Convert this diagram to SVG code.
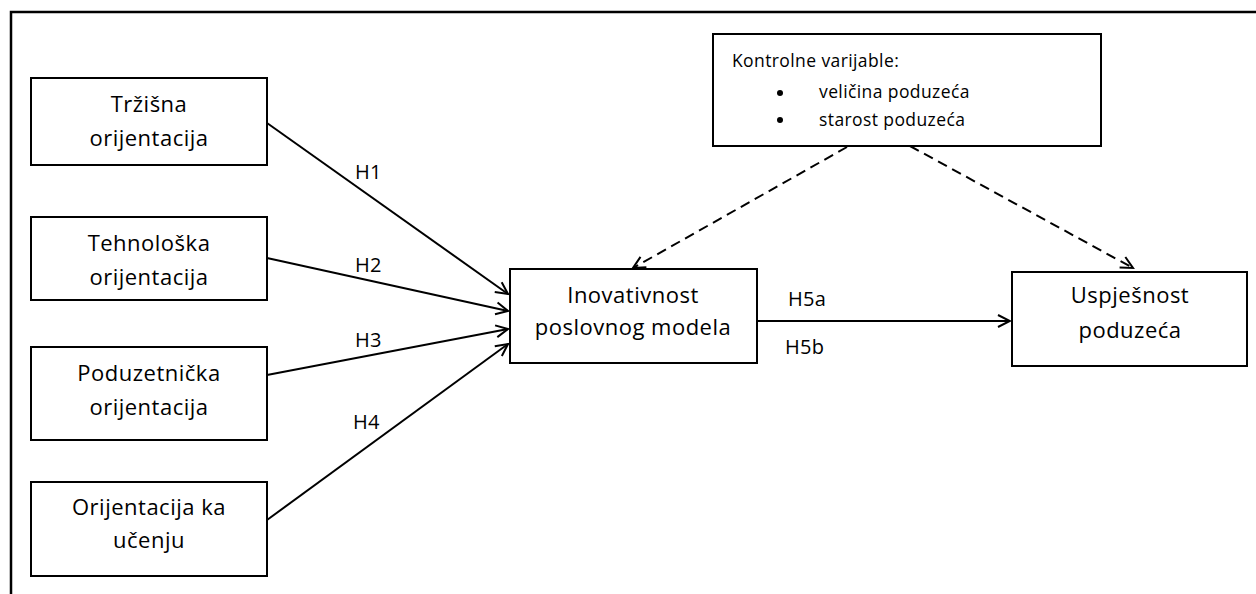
<svg xmlns="http://www.w3.org/2000/svg" width="1256" height="594" viewBox="0 0 1256 594">
  <style>
    .box { fill: #fff; stroke: #000; stroke-width: 2; }
    .t { font-family: "Open Sans", "Liberation Sans", sans-serif; font-size: 22px; letter-spacing: 0.5px; fill: #000; text-anchor: middle; }
    .lbl { font-family: "Open Sans", "Liberation Sans", sans-serif; font-size: 20px; letter-spacing: 0.3px; fill: #000; }
    .small { font-family: "Open Sans", "Liberation Sans", sans-serif; font-size: 17.5px; letter-spacing: 0.4px; fill: #000; }
    .edge { fill: none; stroke: #000; stroke-width: 2; marker-end: url(#arr); }
    .dash { fill: none; stroke: #000; stroke-width: 2; stroke-dasharray: 10 6; marker-end: url(#arr); }
  </style>
  <defs>
    <marker id="arr" markerUnits="userSpaceOnUse" markerWidth="16" markerHeight="16" viewBox="-14 -8 16 16" refX="0" refY="0" orient="auto">
      <path d="M-12,-6 L0,0 L-12,6" fill="none" stroke="#000" stroke-width="2" stroke-linejoin="miter"/>
    </marker>
  </defs>
  <rect width="1256" height="594" fill="#fff"/>
  <path d="M11,594 V12 H1256" fill="none" stroke="#000" stroke-width="2.5"/>

  <g id="connectors">
    <line class="edge" x1="267" y1="123" x2="508" y2="294"/>
    <line class="edge" x1="267" y1="258" x2="508" y2="311"/>
    <line class="edge" x1="267" y1="375" x2="508" y2="329"/>
    <line class="edge" x1="267" y1="520" x2="508" y2="344"/>
    <line class="edge" x1="757" y1="321" x2="1010" y2="321"/>
    <line class="dash" x1="847" y1="147" x2="633" y2="268"/>
    <line class="dash" x1="910" y1="146" x2="1133" y2="268"/>
    <text class="lbl" x="355" y="179">H1</text>
    <text class="lbl" x="355" y="272">H2</text>
    <text class="lbl" x="355" y="347">H3</text>
    <text class="lbl" x="353" y="429">H4</text>
    <text class="lbl" x="788" y="306">H5a</text>
    <text class="lbl" x="785" y="354">H5b</text>
  </g>

  <g id="trzisna">
    <rect class="box" x="31" y="78" width="236" height="87"/>
    <text class="t" x="149" y="112">Tržišna</text>
    <text class="t" x="149" y="146">orijentacija</text>
  </g>
  <g id="tehnoloska">
    <rect class="box" x="31" y="217" width="236" height="83"/>
    <text class="t" x="149" y="251">Tehnološka</text>
    <text class="t" x="149" y="285">orijentacija</text>
  </g>
  <g id="poduzetnicka">
    <rect class="box" x="31" y="347" width="236" height="93"/>
    <text class="t" x="149" y="381">Poduzetnička</text>
    <text class="t" x="149" y="415">orijentacija</text>
  </g>
  <g id="ucenje">
    <rect class="box" x="31" y="482" width="236" height="94"/>
    <text class="t" x="149" y="515">Orijentacija ka</text>
    <text class="t" x="149" y="548">učenju</text>
  </g>
  <g id="inovativnost">
    <rect class="box" x="510" y="269" width="247" height="94"/>
    <text class="t" x="633" y="303">Inovativnost</text>
    <text class="t" x="633" y="335">poslovnog modela</text>
  </g>
  <g id="uspjesnost">
    <rect class="box" x="1012" y="272" width="235" height="94"/>
    <text class="t" x="1130" y="303">Uspješnost</text>
    <text class="t" x="1130" y="338">poduzeća</text>
  </g>
  <g id="kontrolne">
    <rect class="box" x="713" y="34" width="388" height="112"/>
    <text class="small" x="732" y="67">Kontrolne varijable:</text>
    <circle cx="780" cy="93" r="3"/>
    <circle cx="780" cy="120" r="3"/>
    <text class="small" x="819" y="98">veličina poduzeća</text>
    <text class="small" x="819" y="126">starost poduzeća</text>
  </g>
</svg>
